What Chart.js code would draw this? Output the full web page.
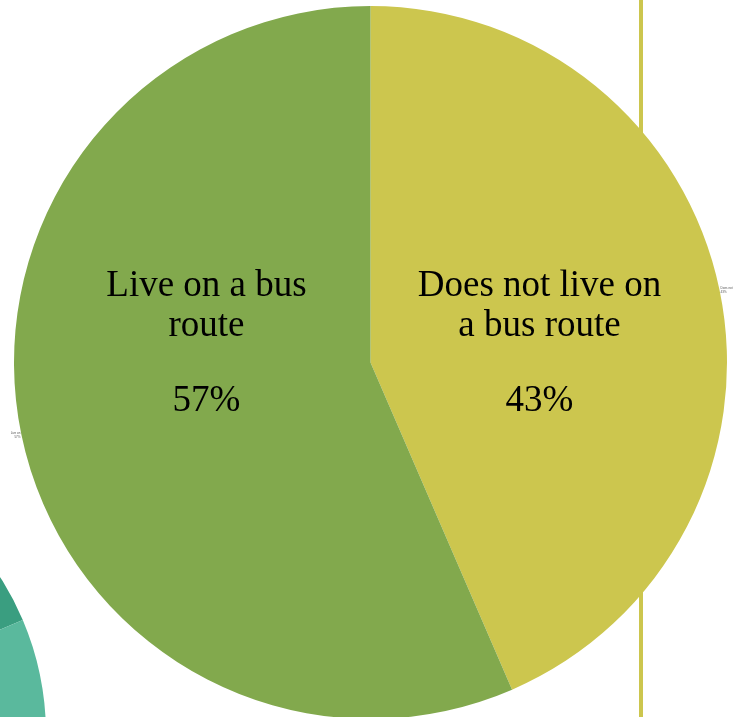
<!DOCTYPE html>
<html>
<head>
<meta charset="utf-8">
<script src="https://cdn.jsdelivr.net/npm/chart.js@4/dist/chart.umd.min.js"></script>
<style>
    html, body { margin: 0; padding: 0; background: #ffffff; overflow: hidden; }
    body { width: 735px; height: 717px; position: relative; }
    #backChart { position: absolute; left: -538px; top: 442px; z-index: 0; }
    #busChart { position: absolute; left: 0; top: 0; z-index: 1; }
</style>
</head>
<body>
<canvas id="backChart" width="584" height="584"></canvas>
<canvas id="busChart" width="735" height="725"></canvas>
<script>
const categories = ['Does not live on a bus route', 'Live on a bus route'];
const labelLines = [['Does not live on', 'a bus route'], ['Live on a bus', 'route']];
// slice sizes, labels as printed
const shares = [43.5, 56.5];
const shareLabels = ['43%', '57%'];
const sliceColors = ['#CCC64E', '#82A94D'];

// partly visible chart behind, bottom left corner
const backCategories = ['A', 'B'];
const backValues = [19, 81];
const backColors = ['#3A9E80', '#5AB99D'];

const labelFont = '37px "Liberation Serif", "Times New Roman", serif';

const sliceLabels = {
    id: 'sliceLabels',
    beforeDatasetsDraw(chart) {
        // thin vertical rule that sits behind the pie
        const ctx = chart.ctx;
        const arc = chart.getDatasetMeta(0).data[0];
        ctx.save();
        ctx.fillStyle = sliceColors[0];
        ctx.fillRect(arc.x + 268.5, 0, 4, chart.height);
        ctx.restore();
    },
    afterDatasetsDraw(chart) {
        const ctx = chart.ctx;
        const meta = chart.getDatasetMeta(0);
        ctx.save();
        meta.data.forEach((arc, i) => {
            const mid = (arc.startAngle + arc.endAngle) / 2;
            const r = arc.outerRadius;
            const x = arc.x + Math.cos(mid) * r * 0.477 + 2.5;
            ctx.fillStyle = '#000000';
            ctx.font = labelFont;
            ctx.textAlign = 'center';
            ctx.textBaseline = 'alphabetic';
            ctx.fillText(labelLines[i][0], x, arc.y - 66.5);
            ctx.fillText(labelLines[i][1], x, arc.y - 26.5);
            ctx.fillText(shareLabels[i], x, arc.y + 48.5);

            // tiny outside labels at the rim
            const ox = arc.x + Math.cos(mid) * r;
            const oy = arc.y + Math.sin(mid) * r;
            const right = Math.cos(mid) > 0;
            ctx.font = '3px "Liberation Sans", sans-serif';
            ctx.fillStyle = '#555555';
            ctx.textAlign = right ? 'left' : 'right';
            const tx = right ? ox + 1 : ox - 1;
            ctx.fillText(categories[i].split(' ').slice(0, 2).join(' '), tx, oy - 1);
            ctx.fillText(shareLabels[i], tx, oy + 3);
        });
        ctx.restore();
    }
};

new Chart(document.getElementById('backChart'), {
    type: 'pie',
    data: {
        labels: backCategories,
        datasets: [{ data: backValues, backgroundColor: backColors, borderWidth: 0 }]
    },
    options: {
        responsive: false,
        animation: false,
        rotation: -1.4,
        plugins: { legend: { display: false }, tooltip: { enabled: false } }
    }
});

new Chart(document.getElementById('busChart'), {
    type: 'pie',
    data: {
        labels: categories,
        datasets: [{
            data: shares,
            backgroundColor: sliceColors,
            borderWidth: 0
        }]
    },
    options: {
        responsive: false,
        animation: false,
        layout: { padding: { left: 14, right: 8, top: 6, bottom: 6 } },
        plugins: { legend: { display: false }, tooltip: { enabled: false } }
    },
    plugins: [sliceLabels]
});
</script>
</body>
</html>
